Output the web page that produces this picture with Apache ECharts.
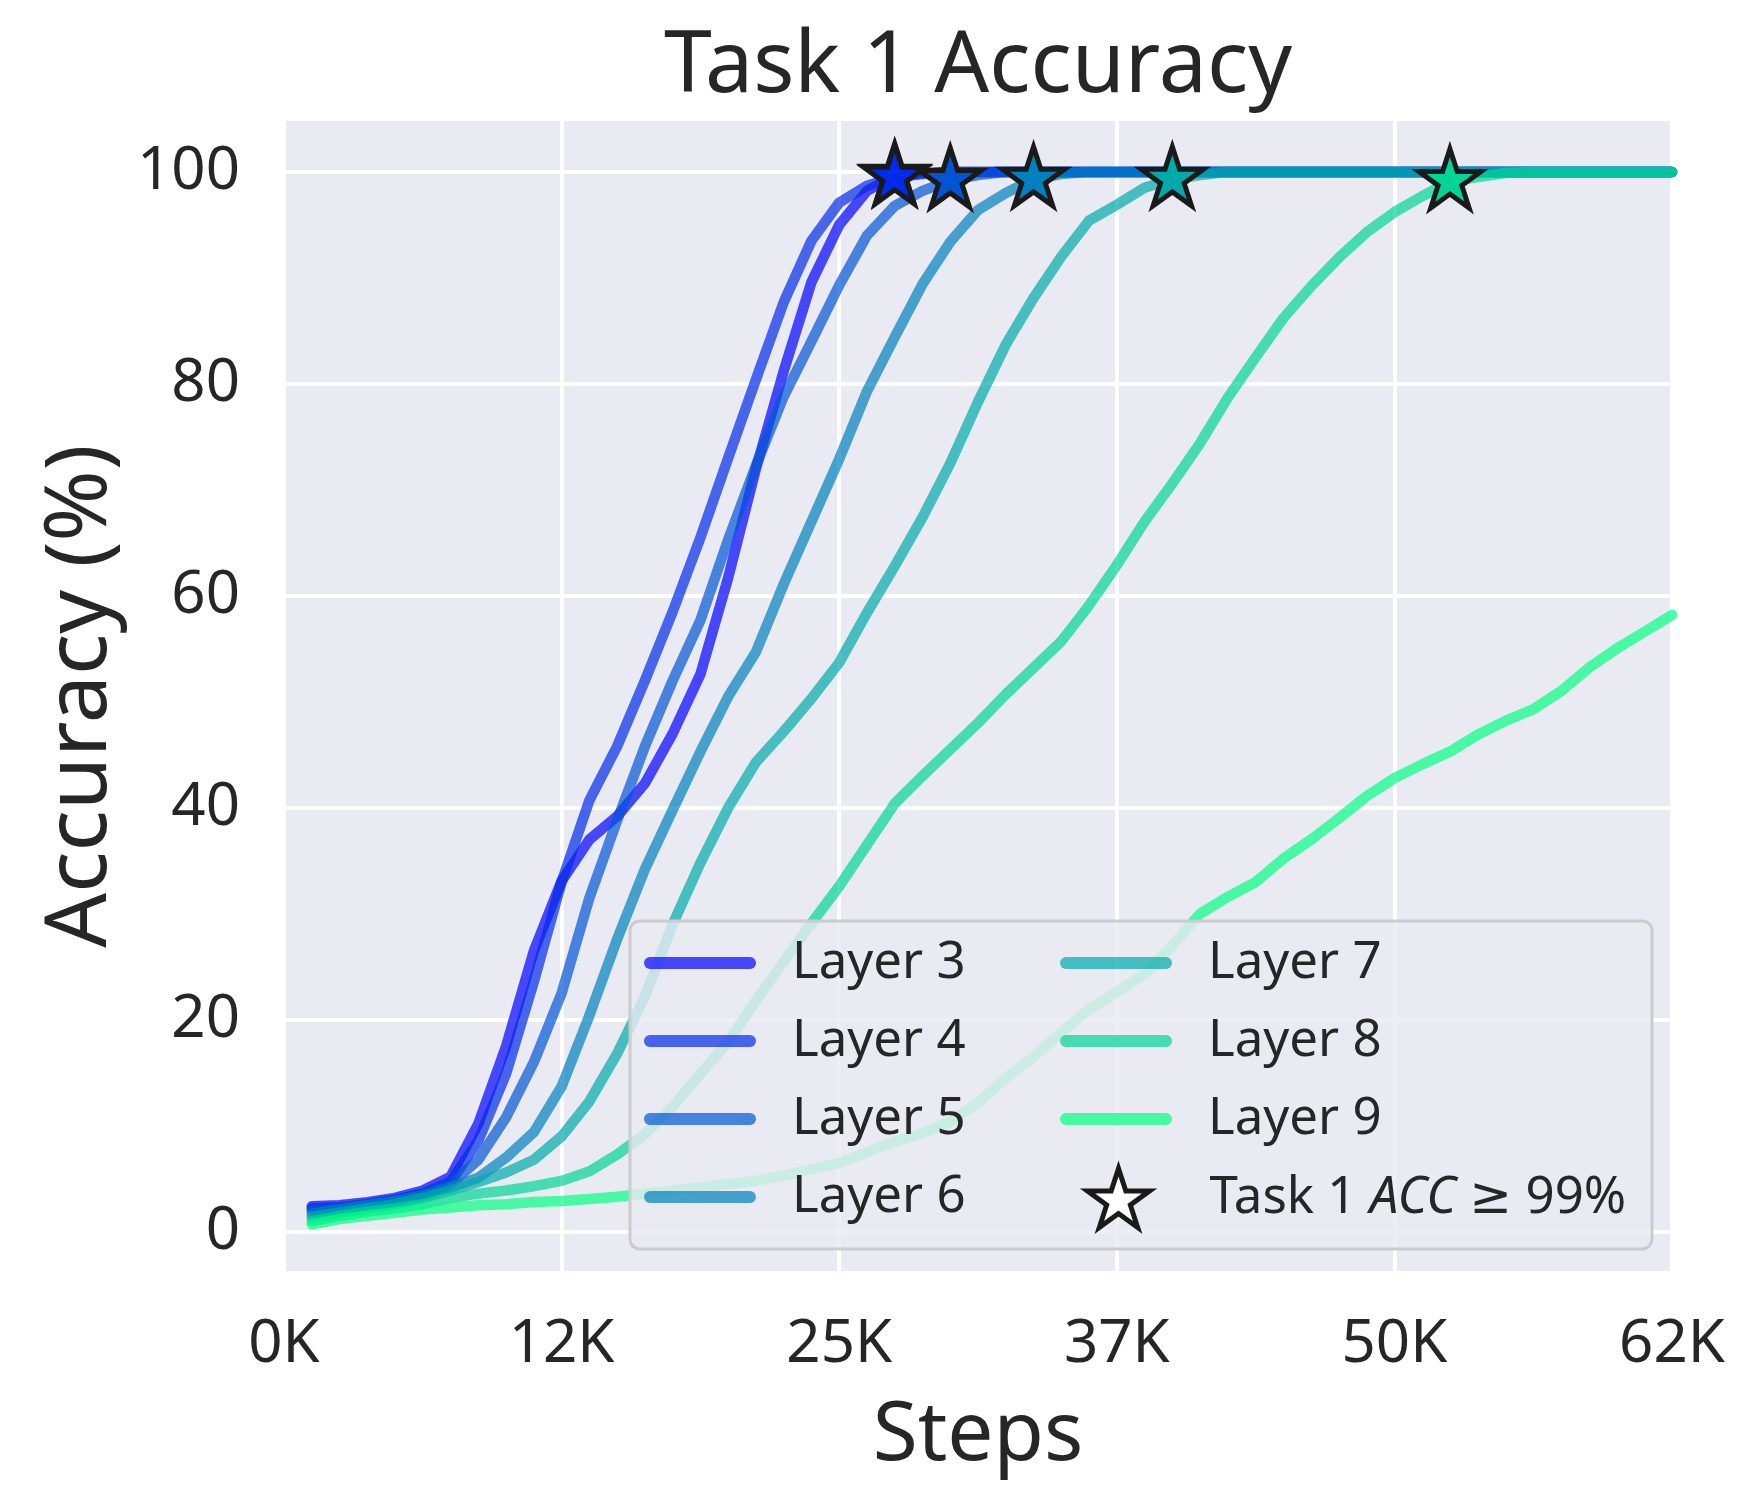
<!DOCTYPE html>
<html>
<head>
<meta charset="utf-8">
<script src="https://cdn.jsdelivr.net/npm/echarts@6/dist/echarts.min.js"></script>
<style>
html,body{margin:0;padding:0;background:#ffffff;}
#chart{width:1763px;height:1487px;}
</style>
</head>
<body>
<div id="chart"></div>
<script>
// ---------------- data ----------------
const steps = [1240,2480,3720,4960,6200,7440,8680,9920,11160,12400,
  13640,14880,16120,17360,18600,19840,21080,22320,23560,24800,
  26040,27280,28520,29760,31000,32240,33480,34720,35960,37200,
  38440,39680,40920,42160,43400,44640,45880,47120,48360,49600,
  50840,52080,53320,54560,55800,57040,58280,59520,60760,62000];

const layerNames = ['Layer 3','Layer 4','Layer 5','Layer 6','Layer 7','Layer 8','Layer 9'];

const layer3 = [2.4,2.5,2.8,3.2,3.9,5.2,10.2,17.5,26.5,33.1,
  37.0,39.2,42.3,47.0,52.6,61.7,72.0,81.2,89.6,95.0,
  98.2,99.6,99.9,100,100,100,100,100,100,100,
  100,100,100,100,100,100,100,100,100,100,
  100,100,100,100,100,100,100,100,100,100];
const layer4 = [2.2,2.3,2.6,3.0,3.6,4.7,8.6,14.9,23.6,33.0,
  40.7,45.8,52.0,58.5,65.5,73.0,80.4,87.7,93.5,97.1,
  98.7,99.5,99.8,100,100,100,100,100,100,100,
  100,100,100,100,100,100,100,100,100,100,
  100,100,100,100,100,100,100,100,100,100];
const layer5 = [2.0,2.2,2.5,2.9,3.5,4.5,6.8,10.8,16.0,22.5,
  31.5,38.8,45.8,52.0,57.7,65.3,72.3,78.8,84.0,89.3,
  94.0,96.8,98.2,99.2,99.7,100,100,100,100,100,
  100,100,100,100,100,100,100,100,100,100,
  100,100,100,100,100,100,100,100,100,100];
const layer6 = [1.7,2.1,2.5,2.9,3.4,4.2,5.1,7.0,9.4,13.7,
  20.4,27.6,34.2,39.8,45.3,50.5,54.7,61.1,67.0,72.9,
  79.3,84.4,89.4,93.4,96.4,98.0,99.3,99.8,100,100,
  100,100,100,100,100,100,100,100,100,100,
  100,100,100,100,100,100,100,100,100,100];
const layer7 = [1.4,1.8,2.2,2.6,3.2,3.9,4.7,5.6,6.8,9.0,
  12.3,16.8,22.2,29.0,34.8,40.0,44.3,47.2,50.3,53.7,
  58.4,62.8,67.4,72.5,78.3,83.7,88.1,92.0,95.4,96.9,
  98.5,99.3,99.7,100,100,100,100,100,100,100,
  100,100,100,100,100,100,100,100,100,100];
const layer8 = [1.0,1.5,1.9,2.2,2.6,3.2,3.6,3.9,4.3,4.8,
  5.7,7.3,9.2,11.8,14.9,17.9,21.8,25.5,29.1,32.6,
  36.5,40.4,43.0,45.5,48.0,50.7,53.2,55.7,59.1,62.9,
  67.0,70.6,74.4,78.7,82.5,86.2,89.2,91.9,94.3,96.2,
  97.7,99.1,99.5,99.9,100,100,100,100,100,100];
const layer9 = [0.7,1.2,1.5,1.8,2.1,2.3,2.5,2.6,2.8,2.9,
  3.1,3.3,3.6,3.9,4.2,4.5,4.8,5.3,5.9,6.5,
  7.5,8.5,9.3,10.4,12.2,14.5,16.5,18.8,21.0,22.6,
  24.3,27.0,30.0,31.6,33.0,35.2,37.0,39.0,41.1,42.8,
  44.1,45.3,46.9,48.2,49.3,51.0,53.2,55.0,56.6,58.2];

const starLabel = 'Task 1 ACC ≥ 99%';
const starThreshold = 99;
const yTicks = [0, 20, 40, 60, 80, 100];
const xTickStep = 12400;
const xMax = 62000;
const yMin = -3.7;
const yMax = 104.8;

// ---------------- styles ----------------
const layers = [layer3, layer4, layer5, layer6, layer7, layer8, layer9];
const lineColors = ['rgba(0,0,255,0.7)','rgba(0,43,234,0.7)','rgba(0,85,213,0.7)',
  'rgba(0,128,191,0.7)','rgba(0,170,170,0.7)','rgba(0,213,149,0.7)','rgba(0,255,128,0.7)'];
const starColors = ['#0000ff','#002bea','#0055d5','#0080bf','#00aaaa','#00d595','#00ff80'];
const FONT = "'Noto Sans', 'DejaVu Sans', sans-serif";
const TXT = '#262626';
const STAR = 'path://M50 0 L61.23 34.55 L97.55 34.55 L68.17 55.9 L79.39 90.45 L50 69.1 L20.61 90.45 L31.83 55.9 L2.45 34.55 L38.77 34.55 Z';
const CAPSULE = 'path://M6 0 L106 0 A6 6 0 0 1 106 12 L6 12 A6 6 0 0 1 6 0 Z';

const series = layers.map((vals, i) => ({
  name: layerNames[i],
  type: 'line',
  data: vals.map((v, j) => [steps[j], v]),
  showSymbol: false,
  symbol: 'none',
  color: lineColors[i],
  itemStyle: { color: lineColors[i] },
  lineStyle: { width: 10.5, color: lineColors[i], cap: 'round', join: 'round' },
  z: 2,
  silent: true
}));

const starData = [];
layers.forEach((vals, i) => {
  const idx = vals.findIndex(v => v >= starThreshold);
  if (idx >= 0) {
    starData.push({ value: [steps[idx], vals[idx]], itemStyle: { color: starColors[i] } });
  }
});
series.push({
  name: starLabel,
  type: 'scatter',
  data: starData,
  symbol: STAR,
  symbolSize: 62,
  symbolKeepAspect: true,
  symbolOffset: [0, -3],
  itemStyle: { borderColor: '#1a1a1a', borderWidth: 5, opacity: 1 },
  z: 6,
  silent: true
});

const legendText = { fontSize: 51, color: TXT, fontFamily: FONT, lineHeight: 56, padding: [0, 0, 0, 31] };

const option = {
  animation: false,
  backgroundColor: '#ffffff',
  title: {
    text: 'Task 1 Accuracy',
    left: 978,
    top: 24,
    textAlign: 'center',
    padding: 0,
    textStyle: { fontSize: 86, fontWeight: 'normal', color: TXT, fontFamily: FONT }
  },
  grid: {
    left: 284, right: 91, top: 121, bottom: 216,
    show: true, backgroundColor: '#EAEAF2', borderWidth: 0,
    containLabel: false, outerBoundsMode: 'none'
  },
  xAxis: {
    type: 'value', min: 0, max: xMax, interval: xTickStep,
    axisLine: { show: false }, axisTick: { show: false },
    splitLine: { show: true, lineStyle: { color: '#ffffff', width: 4 } },
    axisLabel: {
      formatter: v => Math.round(v / 1000) + 'K',
      fontSize: 60, color: TXT, fontFamily: FONT, margin: 44,
      showMinLabel: true, showMaxLabel: true
    },
    name: 'Steps', nameLocation: 'middle', nameGap: 125,
    nameTextStyle: { fontSize: 82, color: TXT, fontFamily: FONT }
  },
  yAxis: {
    type: 'value', min: yMin, max: yMax,
    axisLine: { show: false },
    axisTick: { show: false, customValues: yTicks },
    splitLine: { show: true, lineStyle: { color: '#ffffff', width: 4 } },
    axisLabel: { customValues: yTicks, fontSize: 60, color: TXT, fontFamily: FONT, margin: 44 },
    name: 'Accuracy (%)', nameLocation: 'middle', nameGap: 160,
    nameTextStyle: { fontSize: 86, color: TXT, fontFamily: FONT }
  },
  graphic: {
    elements: [{
      type: 'rect', z: 3, silent: true,
      shape: { x: 630, y: 921, width: 1022, height: 328, r: 10 },
      style: { fill: 'rgba(234,234,242,0.8)', stroke: '#cccccc', lineWidth: 3 }
    }]
  },
  legend: [
    {
      orient: 'vertical', left: 644, top: 935, padding: 0, itemGap: 22,
      itemWidth: 112, itemHeight: 12, icon: CAPSULE, selectedMode: false, z: 5,
      data: layerNames.slice(0, 4), textStyle: legendText
    },
    {
      orient: 'vertical', left: 1060, top: 935, padding: 0, itemGap: 22,
      itemWidth: 112, itemHeight: 12, icon: CAPSULE, selectedMode: false, z: 5,
      data: layerNames.slice(4), textStyle: legendText
    },
    {
      orient: 'vertical', left: 1085, top: 1166, padding: 0,
      itemWidth: 62, itemHeight: 60, selectedMode: false, z: 5,
      data: [{ name: starLabel, icon: STAR,
        itemStyle: { color: '#ffffff', borderColor: '#1a1a1a', borderWidth: 5 } }],
      formatter: () => 'Task 1 {i|ACC} ≥ 99%',
      textStyle: Object.assign({}, legendText, {
        padding: [0, 0, 0, 55],
        rich: { i: { fontStyle: 'italic', fontSize: 51, color: TXT, fontFamily: FONT } }
      })
    }
  ],
  series: series
};

const chart = echarts.init(document.getElementById('chart'), null, { renderer: 'canvas' });
chart.setOption(option);
</script>
</body>
</html>
